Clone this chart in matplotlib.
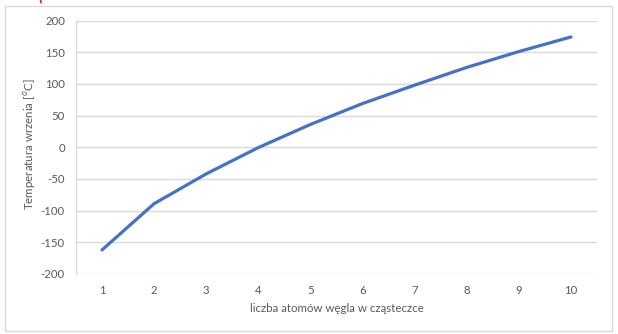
import matplotlib
matplotlib.use("Agg")
import matplotlib.pyplot as plt
from matplotlib.patches import Rectangle
from matplotlib.lines import Line2D

carbons = [1, 2, 3, 4, 5, 6, 7, 8, 9, 10]
boiling = [-162, -89, -42, -0.5, 36, 69, 98, 126, 151, 174]
yticks = [-200, -150, -100, -50, 0, 50, 100, 150, 200]

plt.rcParams['font.family'] = ['Lato', 'DejaVu Sans']
W, H = 618, 334
fig = plt.figure(figsize=(W/100, H/100), dpi=100)
fig.patches.append(Rectangle((5/W, 1-331/H), 607/W, 325/H, transform=fig.transFigure,
                             fill=False, edgecolor='#d9d9d9', linewidth=1.0))
fig.lines.append(Line2D([40.5/W, 41/W], [1.0, 1-2.5/H], transform=fig.transFigure,
                        color='#e02020', linewidth=1.2))

ax = fig.add_axes([76/W, 1-274/H, 521/W, 253.5/H])
x = list(range(len(carbons)))
ax.plot(x, boiling, color='#4472C4', linewidth=2.3, solid_capstyle='round')
ax.set_xlim(-0.5, len(carbons)-0.5)
ax.set_ylim(-200, 200)
ax.set_xticks(x)
ax.set_xticklabels([str(c) for c in carbons])
ax.set_yticks(yticks)
ax.set_yticklabels([str(v) for v in yticks])
ax.grid(axis='y', color='#d9d9d9', linewidth=1.0)
ax.set_axisbelow(True)
for s in ['top', 'right', 'bottom']:
    ax.spines[s].set_visible(False)
ax.spines['left'].set_color('#d9d9d9')
ax.spines['left'].set_linewidth(1.0)
ax.tick_params(axis='both', length=0, colors='#595959', labelsize=8.2)
ax.tick_params(axis='x', pad=8)
ax.tick_params(axis='y', pad=8)
ax.set_xlabel('liczba atomów węgla w cząsteczce', color='#595959', fontsize=8.3, labelpad=5)
ax.set_ylabel('Temperatura wrzenia [$^o$C]', color='#595959', fontsize=8.3)
ax.yaxis.set_label_coords(-0.073, 0.51)

fig.savefig('out.png', dpi=100)
